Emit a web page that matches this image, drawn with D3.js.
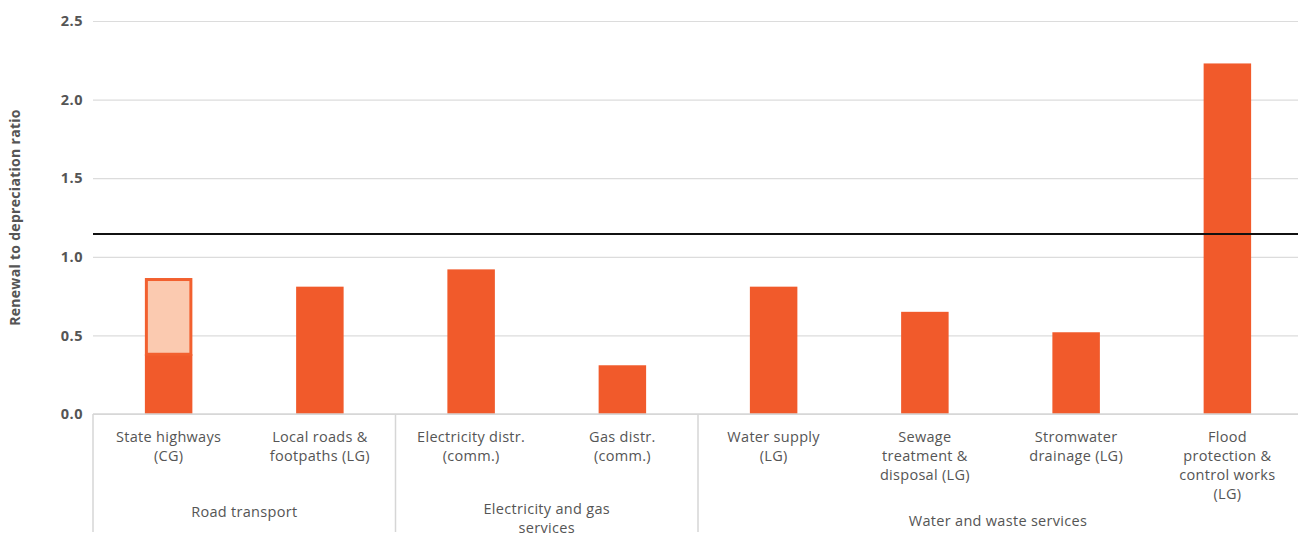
<!DOCTYPE html>
<html>
<head>
<meta charset="utf-8">
<script src="https://cdn.jsdelivr.net/npm/d3@7"></script>
<style>
  body { margin: 0; background: #fff; font-family: "Open Sans", Lato, sans-serif; }
  .tick text { fill: #555; font-weight: bold; font-size: 14.5px; letter-spacing: 0.5px; font-family: "Open Sans", sans-serif; }
</style>
</head>
<body>
<div id="chart"></div>
<script>
// categories and values
const categories = [
  'State highways (CG)', 'Local roads & footpaths (LG)', 'Electricity distr. (comm.)', 'Gas distr. (comm.)',
  'Water supply (LG)', 'Sewage treatment & disposal (LG)', 'Stromwater drainage (LG)', 'Flood protection & control works (LG)'
];
const labelLines = [
  ['State highways', '(CG)'], ['Local roads &', 'footpaths (LG)'], ['Electricity distr.', '(comm.)'], ['Gas distr.', '(comm.)'],
  ['Water supply', '(LG)'], ['Sewage', 'treatment &', 'disposal (LG)'], ['Stromwater', 'drainage (LG)'],
  ['Flood', 'protection &', 'control works', '(LG)']
];
const baseValues = [0.38, 0.81, 0.92, 0.31, 0.81, 0.65, 0.52, 2.23];
const extraTop = [0.865, null, null, null, null, null, null, null]; // lighter upper segment
const groups = [
  { lines: ['Road transport'], from: 0, to: 1, y: 517 },
  { lines: ['Electricity and gas', 'services'], from: 2, to: 3, y: 514 },
  { lines: ['Water and waste services'], from: 4, to: 7, y: 526 }
];
const benchmark = 1.145;
const yTicks = [0, 0.5, 1.0, 1.5, 2.0, 2.5];

const width = 1298, height = 537;
const margin = { top: 21, right: 0, bottom: 123, left: 93 };

const svg = d3.select('#chart').append('svg')
  .attr('width', width).attr('height', height);

const x = d3.scaleBand().domain(categories)
  .range([margin.left, 1303]).paddingInner(0.686).paddingOuter(0.343);
const y = d3.scaleLinear().domain([0, 2.5]).range([height - margin.bottom, margin.top]);
const cx = d => x(d) + x.bandwidth() / 2;

// grid + y axis
const yAxis = svg.append('g')
  .attr('transform', `translate(${margin.left},0)`)
  .call(d3.axisLeft(y).tickValues(yTicks).tickFormat(d3.format('.1f'))
    .tickSize(-(width - margin.left - margin.right)).tickPadding(10));
yAxis.select('.domain').remove();
yAxis.selectAll('.tick line').attr('stroke', '#dcdcdc').attr('stroke-width', 1.2);

svg.append('text')
  .attr('transform', `translate(20,${(margin.top + height - margin.bottom) / 2}) rotate(-90)`)
  .attr('text-anchor', 'middle')
  .attr('fill', '#555').attr('font-size', 14).attr('font-weight', 'bold').attr('letter-spacing', 0.3)
  .text('Renewal to depreciation ratio');

// bars
svg.selectAll('.bar').data(categories).enter().append('rect')
  .attr('class', 'bar')
  .attr('x', d => x(d)).attr('width', x.bandwidth())
  .attr('y', (d, i) => y(baseValues[i]))
  .attr('height', (d, i) => y(0) - y(baseValues[i]))
  .attr('fill', '#f15a2b');

svg.selectAll('.bar-top').data(categories.filter((d, i) => extraTop[i] != null)).enter().append('rect')
  .attr('class', 'bar-top')
  .attr('x', d => x(d) + 1.5).attr('width', x.bandwidth() - 3)
  .attr('y', d => y(extraTop[categories.indexOf(d)]) + 1.5)
  .attr('height', d => y(baseValues[categories.indexOf(d)]) - y(extraTop[categories.indexOf(d)]) - 1.5)
  .attr('fill', '#fbcab0').attr('stroke', '#f2602f').attr('stroke-width', 3);

// benchmark line
svg.append('line')
  .attr('x1', margin.left).attr('x2', width)
  .attr('y1', y(benchmark)).attr('y2', y(benchmark))
  .attr('stroke', '#111').attr('stroke-width', 2.2);

// category labels
const catLabels = svg.selectAll('.cat').data(categories).enter().append('text')
  .attr('class', 'cat')
  .attr('text-anchor', 'middle').attr('fill', '#555').attr('font-size', 14.5).attr('letter-spacing', 0.3)
  .attr('x', cx).attr('y', y(0) + 28);
catLabels.selectAll('tspan').data((d, i) => labelLines[i]).enter().append('tspan')
  .attr('x', function () { return d3.select(this.parentNode).attr('x'); })
  .attr('dy', (d, i) => i === 0 ? 0 : 19)
  .text(d => d);

// group separators
const step = x.step();
const bounds = [margin.left, cx(categories[2]) - step / 2, cx(categories[4]) - step / 2];
svg.selectAll('.sep').data(bounds).enter().append('line')
  .attr('x1', d => d).attr('x2', d => d)
  .attr('y1', y(0)).attr('y2', height - 5)
  .attr('stroke', '#d6d6d6').attr('stroke-width', 1.5);

svg.append('line')
  .attr('x1', margin.left).attr('x2', width)
  .attr('y1', y(0)).attr('y2', y(0))
  .attr('stroke', '#d6d6d6').attr('stroke-width', 1.5);

// group labels
groups.forEach(g => {
  const x0 = cx(categories[g.from]) - step / 2;
  const x1 = Math.min(cx(categories[g.to]) + step / 2, width);
  const t = svg.append('text').attr('text-anchor', 'middle').attr('fill', '#555')
    .attr('font-size', 14.5).attr('letter-spacing', 0.3);
  g.lines.forEach((l, i) => t.append('tspan').attr('x', (x0 + x1) / 2).attr('y', g.y + i * 19).text(l));
});
</script>
</body>
</html>
